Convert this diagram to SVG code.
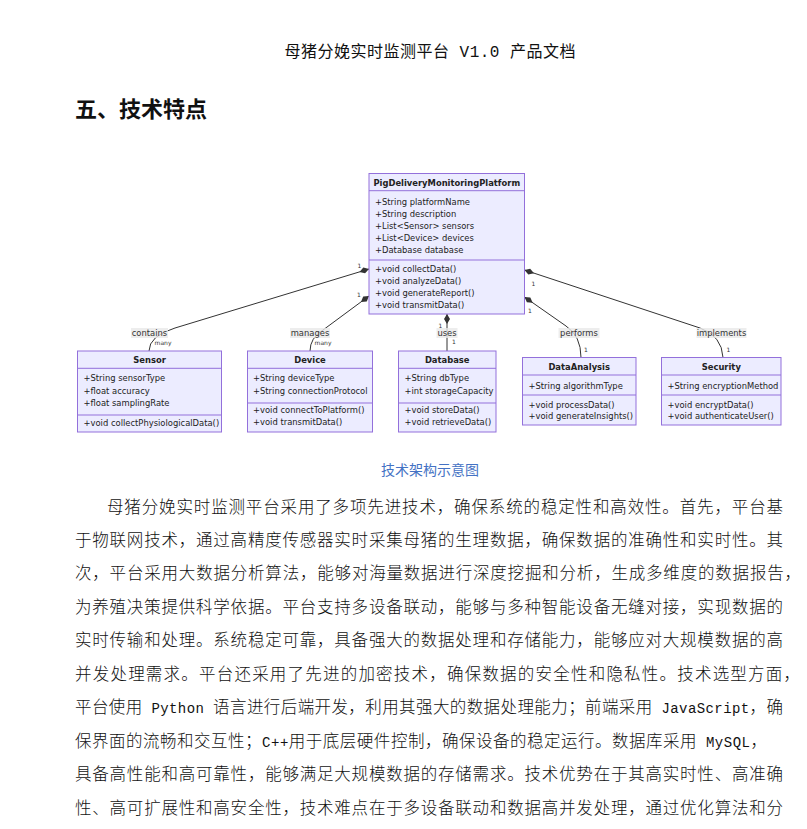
<svg xmlns="http://www.w3.org/2000/svg" width="807" height="829" viewBox="0 0 807 829">
<style>
.cls rect{fill:#ECECFF;stroke:#9370DB;stroke-width:1}
.cls line{stroke:#9370DB;stroke-width:1}
.cls text{font-family:"DejaVu Sans",Verdana,sans-serif;font-size:8.4px;fill:#222}
.cls text.t{font-weight:bold;text-anchor:middle}
.edge{fill:none;stroke:#333;stroke-width:1}
.lbl rect{fill:rgba(232,232,232,0.8)}
.lbl text{font-family:"DejaVu Sans",Verdana,sans-serif;font-size:8.4px;fill:#333;text-anchor:middle}
.card{font-family:"DejaVu Sans",Verdana,sans-serif;font-size:6px;fill:#333;text-anchor:middle}
.body{font-family:"Noto Sans CJK SC",sans-serif;font-size:16.5px;fill:#111;font-weight:300}
.lat{font-family:"Liberation Mono",monospace;font-size:14px;font-weight:normal}
</style>
<defs>
<marker id="dia" viewBox="-1 -4 12 8" refX="0" refY="0" markerWidth="12" markerHeight="8" orient="auto" markerUnits="userSpaceOnUse">
<path d="M0,0 L5,-3 L10,0 L5,3 Z" fill="#333"/>
</marker>
</defs>
<rect width="807" height="829" fill="#fff"/>

<text x="430" y="57" text-anchor="middle" textLength="291" lengthAdjust="spacing" style="font-family:'Liberation Mono','Noto Sans CJK SC',monospace;font-size:16px;fill:#111">母猪分娩实时监测平台 V1.0 产品文档</text>
<text x="75" y="117" textLength="132" lengthAdjust="spacing" style="font-family:'Noto Sans CJK SC',sans-serif;font-size:22px;font-weight:bold;fill:#111">五、技术特点</text>

<g id="connectors">
<path class="edge" d="M369,269 L175,328 Q149,336 149,351" marker-start="url(#dia)"/>
<path class="edge" d="M369,296 L323,330 Q310,338 310,351" marker-start="url(#dia)"/>
<path class="edge" d="M447,314 L447,351" marker-start="url(#dia)"/>
<path class="edge" d="M524.5,297 L566,326 Q581,336 581,357.5" marker-start="url(#dia)"/>
<path class="edge" d="M524.5,270 L700,328 Q722,336 723,357.5" marker-start="url(#dia)"/>
<g class="lbl">
<rect x="131" y="328" width="37" height="10"/><text x="149.5" y="336">contains</text>
<rect x="290" y="328" width="40" height="10"/><text x="310" y="336">manages</text>
<rect x="436.5" y="328" width="21" height="10"/><text x="447" y="336">uses</text>
<rect x="558.5" y="328" width="41" height="10"/><text x="579" y="336">performs</text>
<rect x="696.5" y="328" width="50" height="10"/><text x="721.5" y="336">implements</text>
</g>
<text class="card" x="359.5" y="267.5">1</text>
<text class="card" x="359" y="296.5">1</text>
<text class="card" x="533.5" y="285.5">1</text>
<text class="card" x="530" y="313">1</text>
<text class="card" x="440.5" y="328">1</text>
<text class="card" x="454" y="344">1</text>
<text class="card" x="163" y="345">many</text>
<text class="card" x="323" y="345">many</text>
<text class="card" x="586" y="351.5">1</text>
<text class="card" x="728.5" y="351.5">1</text>
</g>

<g id="PigDeliveryMonitoringPlatform" class="cls">
<rect x="369" y="173.5" width="155.5" height="140.5"/>
<line x1="369" y1="190.7" x2="524.5" y2="190.7"/>
<line x1="369" y1="260" x2="524.5" y2="260"/>
<text class="t" x="446.8" y="186.3">PigDeliveryMonitoringPlatform</text>
<text x="375" y="204.6">+String platformName</text>
<text x="375" y="216.6">+String description</text>
<text x="375" y="228.5">+List&lt;Sensor&gt; sensors</text>
<text x="375" y="240.6">+List&lt;Device&gt; devices</text>
<text x="375" y="252.8">+Database database</text>
<text x="375" y="272">+void collectData()</text>
<text x="375" y="283.9">+void analyzeData()</text>
<text x="375" y="295.7">+void generateReport()</text>
<text x="375" y="307.5">+void transmitData()</text>
</g>

<g id="Sensor" class="cls">
<rect x="77.5" y="351" width="144" height="81"/>
<line x1="77.5" y1="368.3" x2="221.5" y2="368.3"/>
<line x1="77.5" y1="415" x2="221.5" y2="415"/>
<text class="t" x="149.5" y="363">Sensor</text>
<text x="83.5" y="381.3">+String sensorType</text>
<text x="83.5" y="393.7">+float accuracy</text>
<text x="83.5" y="406.2">+float samplingRate</text>
<text x="83.5" y="426.2">+void collectPhysiologicalData()</text>
</g>

<g id="Device" class="cls">
<rect x="247.5" y="351" width="125" height="81"/>
<line x1="247.5" y1="368.3" x2="372.5" y2="368.3"/>
<line x1="247.5" y1="403" x2="372.5" y2="403"/>
<text class="t" x="310" y="363">Device</text>
<text x="253" y="381.3">+String deviceType</text>
<text x="253" y="393.7">+String connectionProtocol</text>
<text x="253" y="413">+void connectToPlatform()</text>
<text x="253" y="425.3">+void transmitData()</text>
</g>

<g id="Database" class="cls">
<rect x="398.5" y="351" width="97.5" height="81"/>
<line x1="398.5" y1="368.3" x2="496" y2="368.3"/>
<line x1="398.5" y1="403" x2="496" y2="403"/>
<text class="t" x="447.2" y="363">Database</text>
<text x="404.5" y="381.3">+String dbType</text>
<text x="404.5" y="393.7">+int storageCapacity</text>
<text x="404.5" y="413">+void storeData()</text>
<text x="404.5" y="425.3">+void retrieveData()</text>
</g>

<g id="DataAnalysis" class="cls">
<rect x="522.5" y="357.5" width="113.5" height="67.5"/>
<line x1="522.5" y1="375" x2="636" y2="375"/>
<line x1="522.5" y1="395" x2="636" y2="395"/>
<text class="t" x="579.2" y="369.7">DataAnalysis</text>
<text x="528.5" y="388.7">+String algorithmType</text>
<text x="528.5" y="407.5">+void processData()</text>
<text x="528.5" y="419">+void generateInsights()</text>
</g>

<g id="Security" class="cls">
<rect x="661.5" y="357.5" width="119.5" height="67.5"/>
<line x1="661.5" y1="375" x2="781" y2="375"/>
<line x1="661.5" y1="395" x2="781" y2="395"/>
<text class="t" x="721.3" y="369.7">Security</text>
<text x="667.5" y="388.7">+String encryptionMethod</text>
<text x="667.5" y="407.5">+void encryptData()</text>
<text x="667.5" y="419">+void authenticateUser()</text>
</g>

<text x="430" y="475" text-anchor="middle" style="font-family:'Noto Sans CJK SC',sans-serif;font-size:14px;fill:#4472C4">技术架构示意图</text>

<g id="body-text" class="body">
<text x="107" y="512.5" textLength="676" lengthAdjust="spacing">母猪分娩实时监测平台采用了多项先进技术，确保系统的稳定性和高效性。首先，平台基</text>
<text x="75" y="546" textLength="708" lengthAdjust="spacing">于物联网技术，通过高精度传感器实时采集母猪的生理数据，确保数据的准确性和实时性。其</text>
<text x="75" y="579.4" textLength="726" lengthAdjust="spacing">次，平台采用大数据分析算法，能够对海量数据进行深度挖掘和分析，生成多维度的数据报告，</text>
<text x="75" y="612.8" textLength="708" lengthAdjust="spacing">为养殖决策提供科学依据。平台支持多设备联动，能够与多种智能设备无缝对接，实现数据的</text>
<text x="75" y="646.3" textLength="708" lengthAdjust="spacing">实时传输和处理。系统稳定可靠，具备强大的数据处理和存储能力，能够应对大规模数据的高</text>
<text x="75" y="679.7" textLength="725" lengthAdjust="spacing">并发处理需求。平台还采用了先进的加密技术，确保数据的安全性和隐私性。技术选型方面，</text>
<text x="75" y="713.1" textLength="708" lengthAdjust="spacing">平台使用<tspan class="lat"> Python </tspan>语言进行后端开发，利用其强大的数据处理能力；前端采用<tspan class="lat"> JavaScript</tspan>，确</text>
<text x="75" y="746.6" textLength="692" lengthAdjust="spacing">保界面的流畅和交互性；<tspan class="lat">C++</tspan>用于底层硬件控制，确保设备的稳定运行。数据库采用<tspan class="lat"> MySQL</tspan>，</text>
<text x="75" y="780" textLength="708" lengthAdjust="spacing">具备高性能和高可靠性，能够满足大规模数据的存储需求。技术优势在于其高实时性、高准确</text>
<text x="75" y="813.5" textLength="708" lengthAdjust="spacing">性、高可扩展性和高安全性，技术难点在于多设备联动和数据高并发处理，通过优化算法和分</text>
</g>
</svg>
